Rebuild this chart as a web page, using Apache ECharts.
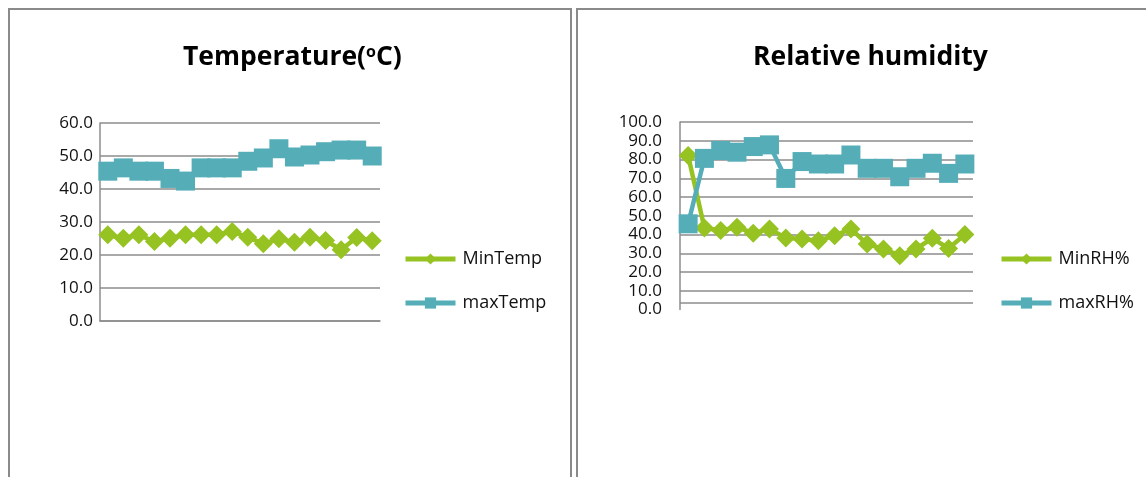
<!DOCTYPE html>
<html>
<head>
<meta charset="utf-8">
<script src="https://cdn.jsdelivr.net/npm/echarts@6/dist/echarts.min.js"></script>
<style>
html,body{margin:0;padding:0;background:#fff;}
#c{width:1146px;height:477px;}
</style>
</head>
<body>
<div id="c"></div>
<script>
// ---- data ----
var days = ['1','2','3','4','5','6','7','8','9','10','11','12','13','14','15','16','17','18'];
var minTemp = [26.1,25.1,26.1,24.1,25.1,26.1,26.1,26.1,27.1,25.4,23.4,24.9,23.9,25.4,24.4,21.6,25.3,24.3];
var maxTemp = [45.4,46.4,45.4,45.4,43.2,42.4,46.4,46.4,46.4,48.4,49.4,52.2,49.7,50.3,51.3,51.8,51.8,50.0];
var minRH = [82.1,43.5,42.1,43.9,40.7,43.0,38.2,37.6,36.7,39.4,43.0,34.9,32.3,28.7,32.3,38.0,32.6,40.0];
var maxRH = [45.7,80.6,84.8,83.9,86.9,87.8,69.9,78.9,77.6,77.6,82.4,75.3,75.3,70.8,75.3,78.0,72.6,77.6];
var tempTicks = {min:0, max:60, interval:10};
var rhTicks = {min:0, max:100, interval:10};
var rhAxisCross = 3.6; // where the RH chart's horizontal axis line is drawn

var GREEN = '#96C322';
var TEAL = '#55ADB8';
var GRID = '#8c8c8c';
var FONT = 'Open Sans';

var chart = echarts.init(document.getElementById('c'), null, {renderer:'canvas'});

function yAxis(idx, t, hideMin, margin){
  return {
    type:'value', gridIndex:idx, min:t.min, max:t.max, interval:t.interval,
    axisLine:{show:true, lineStyle:{color:GRID, width:1.5}},
    axisTick:{show:false},
    splitLine:{show:true, showMinLine:!hideMin, lineStyle:{color:GRID, width:1.5}},
    axisLabel:{formatter:function(v){return v.toFixed(1);}, color:'#111', fontFamily:FONT, fontSize:17, margin:margin}
  };
}
function xAxis(idx, showLine){
  return {
    type:'category', gridIndex:idx, data:days, boundaryGap:true,
    axisLine:{show:showLine, lineStyle:{color:GRID, width:1.5}},
    axisTick:{show:false}, axisLabel:{show:false}, splitLine:{show:false}
  };
}
function series(name, idx, data, color, sym, size){
  return {
    name:name, type:'line', xAxisIndex:idx, yAxisIndex:idx, data:data,
    symbol:sym, symbolSize:size, showSymbol:true, showAllSymbol:true,
    lineStyle:{color:color, width:4.5},
    itemStyle:{color:color},
    animation:false
  };
}
function legend(names, left){
  return {data:names, orient:'vertical', left:left, top:250, padding:0, itemWidth:50, itemHeight:14, itemGap:26,
    lineStyle:{width:5},
    textStyle:{fontFamily:FONT, fontSize:18, color:'#111', padding:[0,0,0,2]}};
}

var s3 = series('maxRH%', 1, maxRH, TEAL, 'rect', 19);
var s2 = series('MinRH%', 1, minRH, GREEN, 'diamond', 19);
s2.markLine = {silent:true, symbol:'none', label:{show:false},
  lineStyle:{color:GRID, width:1.5, type:'solid'}, data:[{yAxis:rhAxisCross}]};

chart.setOption({
  animation:false,
  graphic:[
    {type:'rect', shape:{x:9, y:9, width:562, height:520}, style:{fill:'none', stroke:'#8a8a8a', lineWidth:2}},
    {type:'rect', shape:{x:577, y:9, width:620, height:520}, style:{fill:'none', stroke:'#8a8a8a', lineWidth:2}}
  ],
  title:[
    {text:'Temperature({s|o}C)', left:178, top:39,
     textStyle:{fontFamily:FONT, fontWeight:'bold', fontSize:26.5, color:'#000',
       rich:{s:{fontFamily:FONT, fontWeight:'bold', fontSize:16, color:'#000', verticalAlign:'top', padding:[0,0,10,0]}}}},
    {text:'Relative humidity', left:748, top:39,
     textStyle:{fontFamily:FONT, fontWeight:'bold', fontSize:26.5, color:'#000'}}
  ],
  legend:[legend(['MinTemp','maxTemp'], 403), legend(['MinRH%','maxRH%'], 999)],
  grid:[
    {left:100, right:766, top:123, bottom:156},
    {left:680, right:173, top:122, bottom:167.5}
  ],
  xAxis:[xAxis(0, true), xAxis(1, false)],
  yAxis:[yAxis(0, tempTicks, false, 7), yAxis(1, rhTicks, true, 18)],
  series:[
    series('MinTemp', 0, minTemp, GREEN, 'diamond', 19),
    series('maxTemp', 0, maxTemp, TEAL, 'rect', 19),
    s2, s3
  ]
});
</script>
</body>
</html>
